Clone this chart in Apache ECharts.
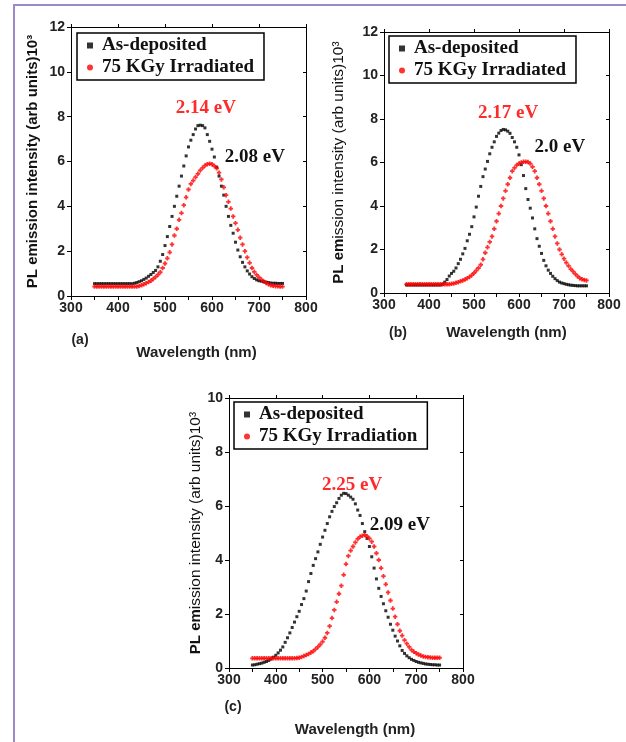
<!DOCTYPE html>
<html>
<head>
<meta charset="utf-8">
<script src="https://cdn.jsdelivr.net/npm/echarts@6.0.0/dist/echarts.min.js"></script>
<style>
html,body{margin:0;padding:0;background:#fff;}
#chart{width:626px;height:742px;}
</style>
</head>
<body>
<div id="chart"></div>
<script>
// Shared wavelength grid (nm)
const wavelength = [
  350,355,360,365,370,375,380,385,390,395,
  400,405,410,415,420,425,430,435,440,445,
  450,455,460,465,470,475,480,485,490,495,
  500,505,510,515,520,525,530,535,540,545,
  550,555,560,565,570,575,580,585,590,595,
  600,605,610,615,620,625,630,635,640,645,
  650,655,660,665,670,675,680,685,690,695,
  700,705,710,715,720,725,730,735,740,745,
  750
];

// Panel (a)
const aBlack = [
  0.55,0.55,0.55,0.55,0.55,0.55,0.55,0.55,0.55,0.55,
  0.55,0.55,0.55,0.55,0.55,0.55,0.55,0.57,0.60,0.64,
  0.68,0.74,0.80,0.88,0.96,1.05,1.14,1.30,1.55,1.85,
  2.25,2.65,3.10,3.55,4.00,4.45,4.90,5.35,5.80,6.25,
  6.65,6.95,7.20,7.45,7.60,7.62,7.60,7.50,7.20,6.90,
  6.55,6.20,5.75,5.35,4.90,4.50,4.00,3.55,3.15,2.80,
  2.40,2.05,1.75,1.50,1.30,1.12,0.98,0.86,0.78,0.72,
  0.68,0.66,0.64,0.62,0.60,0.58,0.57,0.57,0.56,0.56,
  0.56
];
const aRed = [
  0.42,0.42,0.42,0.42,0.42,0.42,0.42,0.42,0.42,0.42,
  0.42,0.42,0.42,0.42,0.42,0.42,0.42,0.42,0.42,0.45,
  0.48,0.52,0.57,0.62,0.68,0.76,0.85,0.95,1.06,1.25,
  1.45,1.68,1.95,2.30,2.70,3.00,3.40,3.70,4.05,4.40,
  4.75,5.00,5.15,5.30,5.45,5.60,5.72,5.82,5.88,5.90,
  5.88,5.80,5.70,5.50,5.20,4.85,4.50,4.20,3.90,3.55,
  3.25,2.95,2.60,2.30,2.00,1.72,1.48,1.25,1.08,0.94,
  0.83,0.74,0.65,0.58,0.52,0.48,0.46,0.44,0.43,0.42,
  0.42
];

// Panel (b)
const bBlack = [
  0.37,0.37,0.37,0.37,0.37,0.37,0.37,0.37,0.37,0.37,
  0.37,0.37,0.37,0.37,0.37,0.37,0.40,0.50,0.62,0.78,
  0.90,1.00,1.15,1.35,1.55,1.80,2.05,2.40,2.70,3.05,
  3.50,3.95,4.45,4.90,5.35,5.70,6.05,6.40,6.70,6.95,
  7.20,7.35,7.47,7.52,7.50,7.44,7.34,7.15,6.95,6.70,
  6.35,5.90,5.40,4.80,4.30,3.90,3.45,2.95,2.50,2.15,
  1.82,1.50,1.25,1.05,0.90,0.77,0.66,0.57,0.50,0.46,
  0.43,0.40,0.38,0.36,0.35,0.34,0.33,0.33,0.33,0.33,
  0.33
];
const bRed = [
  0.40,0.40,0.40,0.40,0.40,0.40,0.40,0.40,0.40,0.40,
  0.40,0.40,0.40,0.40,0.40,0.40,0.40,0.40,0.40,0.40,
  0.42,0.44,0.47,0.50,0.54,0.58,0.62,0.68,0.74,0.82,
  0.92,1.03,1.15,1.30,1.55,1.85,2.10,2.35,2.60,2.95,
  3.30,3.65,4.00,4.35,4.70,5.00,5.30,5.60,5.75,5.88,
  5.95,6.00,6.03,6.04,6.02,5.95,5.80,5.60,5.30,5.00,
  4.70,4.35,4.00,3.65,3.30,2.95,2.60,2.28,2.00,1.78,
  1.58,1.40,1.25,1.10,0.99,0.88,0.77,0.68,0.63,0.60,
  0.58
];

// Panel (c)
const cBlack = [
  0.11,0.12,0.14,0.16,0.18,0.21,0.24,0.28,0.33,0.40,
  0.47,0.56,0.66,0.78,0.95,1.12,1.30,1.50,1.70,1.90,
  2.10,2.35,2.57,2.85,3.20,3.50,3.80,4.05,4.30,4.58,
  4.85,5.10,5.35,5.60,5.80,5.98,6.12,6.28,6.40,6.47,
  6.46,6.40,6.33,6.25,6.08,5.85,5.65,5.35,5.05,4.80,
  4.50,4.12,3.70,3.30,2.95,2.65,2.38,2.12,1.88,1.62,
  1.40,1.18,1.00,0.82,0.65,0.54,0.45,0.38,0.32,0.28,
  0.24,0.21,0.19,0.17,0.15,0.14,0.13,0.12,0.12,0.11,
  0.11
];
const cRed = [
  0.36,0.36,0.36,0.36,0.36,0.36,0.36,0.36,0.36,0.36,
  0.36,0.36,0.36,0.36,0.36,0.36,0.36,0.36,0.36,0.37,
  0.38,0.41,0.44,0.48,0.52,0.57,0.62,0.70,0.78,0.87,
  0.98,1.12,1.30,1.55,1.85,2.15,2.45,2.75,3.05,3.45,
  3.85,4.15,4.35,4.50,4.65,4.78,4.86,4.90,4.93,4.88,
  4.80,4.68,4.50,4.25,4.00,3.70,3.40,3.10,2.80,2.50,
  2.20,1.90,1.62,1.38,1.20,1.03,0.90,0.78,0.67,0.60,
  0.55,0.50,0.46,0.43,0.41,0.40,0.39,0.38,0.38,0.38,
  0.38
];

// Labels
const nameBlack = 'As-deposited';
const nameRedAB = '75 KGy Irradiated';
const nameRedC = '75 KGy Irradiation';
const xTitle = 'Wavelength (nm)';
const panelTags = ['(a)', '(b)', '(c)'];
const peakLabels = {
  a: { red: '2.14 eV', redAt: [587, 8.4], black: '2.08 eV', blackAt: [691, 6.2] },
  b: { red: '2.17 eV', redAt: [576, 8.28], black: '2.0 eV', blackAt: [691, 6.71] },
  c: { red: '2.25 eV', redAt: [563, 6.78], black: '2.09 eV', blackAt: [665, 5.3] }
};
const yMax = [12, 12, 10];

const chart = echarts.init(document.getElementById('chart'), null, { renderer: 'canvas' });

const sans = 'Liberation Sans, Arial, sans-serif';
const serif = 'Liberation Serif, Times New Roman, serif';
const RED = '#ff0000';
const BLACK = '#000000';
const plusPath = 'path://M3,0h4v3h3v4h-3v3h-4v-3h-3v-4h3z';

const grids = [
  { left: 71, top: 27, width: 235, height: 269 },
  { left: 384, top: 32, width: 225, height: 261 },
  { left: 229, top: 398, width: 234, height: 270 }
];

function pts(vals) { return wavelength.map((w, i) => [w, vals[i]]); }

const xNameGap = [49, 32, 54];
const xNamePad = [16, 20, 18];
const yNameGap = [31, 37, 20];

const xAxes = [];
const yAxes = [];
for (let g = 0; g < 3; g++) {
  xAxes.push({
    type: 'value', gridIndex: g, min: 300, max: 800, interval: 100, position: 'bottom',
    axisLine: { show: true, onZero: false, lineStyle: { color: '#000', width: 1 } },
    axisTick: { show: true, inside: false, length: 4, lineStyle: { color: '#000' } },
    minorTick: { show: true, splitNumber: 2, length: 4, lineStyle: { color: '#000' } },
    splitLine: { show: false },
    axisLabel: { margin: 5, fontFamily: sans, fontWeight: 'bold', fontSize: 14, color: '#222' },
    name: xTitle, nameLocation: 'middle', nameGap: xNameGap[g],
    nameTextStyle: { fontFamily: sans, fontWeight: 'bold', fontSize: 15, color: '#222', padding: [0, 0, 0, xNamePad[g]] }
  });
  let yName, yNameStyle;
  if (g === 0) {
    yName = 'PL emission intensity (arb units)10³';
    yNameStyle = { fontFamily: sans, fontWeight: 'bold', fontSize: 15, color: '#111' };
  } else {
    yName = '{b|PL em}{n|ission intensity (arb units)10³}';
    yNameStyle = {
      color: '#111',
      rich: {
        b: { fontFamily: sans, fontWeight: 'bold', fontSize: 15, color: '#111' },
        n: { fontFamily: sans, fontWeight: 'normal', fontSize: 15.5, color: '#111' }
      }
    };
  }
  yAxes.push({
    type: 'value', gridIndex: g, min: 0, max: yMax[g], interval: 2, position: 'left',
    axisLine: { show: true, onZero: false, lineStyle: { color: '#000', width: 1 } },
    axisTick: { show: true, inside: false, length: 4, lineStyle: { color: '#000' } },
    splitLine: { show: false },
    axisLabel: { margin: 6, fontFamily: sans, fontWeight: 'bold', fontSize: 14, color: '#222' },
    name: yName, nameLocation: 'middle', nameGap: yNameGap[g], nameRotate: 90,
    nameTextStyle: yNameStyle
  });
}
// mirror axes (top / right) for the box frame
for (let g = 0; g < 3; g++) {
  xAxes.push({
    type: 'value', gridIndex: g, min: 300, max: 800, interval: 100, position: 'top',
    axisLine: { show: true, onZero: false, lineStyle: { color: '#000', width: 1 } },
    axisTick: { show: true, inside: false, length: 3, lineStyle: { color: '#000' } },
    axisLabel: { show: false }, splitLine: { show: false }
  });
  yAxes.push({
    type: 'value', gridIndex: g, min: 0, max: yMax[g], interval: 2, position: 'right',
    axisLine: { show: true, onZero: false, lineStyle: { color: '#000', width: 1 } },
    axisTick: { show: true, inside: true, length: 3, lineStyle: { color: '#000' } },
    axisLabel: { show: false }, splitLine: { show: false }
  });
}

function peakMark(text, coord, color) {
  return {
    silent: true,
    symbol: 'rect', symbolSize: 1,
    itemStyle: { color: 'rgba(0,0,0,0)' },
    label: {
      show: true, position: 'inside', formatter: text,
      fontFamily: serif, fontWeight: 'bold', fontSize: 19, color: color
    },
    emphasis: { disabled: true },
    data: [{ coord: coord }]
  };
}

const panels = [
  { black: aBlack, red: aRed, redName: nameRedAB, pk: peakLabels.a },
  { black: bBlack, red: bRed, redName: nameRedAB, pk: peakLabels.b },
  { black: cBlack, red: cRed, redName: nameRedC, pk: peakLabels.c }
];

const series = [];
panels.forEach((p, g) => {
  series.push({
    type: 'scatter', name: nameBlack, xAxisIndex: g, yAxisIndex: g,
    symbol: 'rect', symbolSize: 3,
    itemStyle: { color: BLACK },
    data: pts(p.black),
    markPoint: peakMark(p.pk.black, p.pk.blackAt, '#111')
  });
  series.push({
    type: 'scatter', name: p.redName, xAxisIndex: g, yAxisIndex: g,
    symbol: plusPath, symbolSize: 4.5,
    itemStyle: { color: RED },
    data: pts(p.red),
    markPoint: peakMark(p.pk.red, p.pk.redAt, '#ff2a2a')
  });
});

function legendFor(left, top, redName) {
  return {
    left: left, top: top, orient: 'vertical',
    data: [{ name: nameBlack, icon: 'rect' }, { name: redName, icon: 'circle' }],
    itemWidth: 6, itemHeight: 6, itemGap: 3,
    padding: [3, 10, 3, 10],
    borderColor: '#000', borderWidth: 1.5, backgroundColor: '#fff',
    selectedMode: false,
    textStyle: { fontFamily: serif, fontWeight: 'bold', fontSize: 19, color: '#111', padding: [0, 0, 0, 4] }
  };
}

const option = {
  backgroundColor: '#ffffff',
  animation: false,
  grid: grids,
  xAxis: xAxes,
  yAxis: yAxes,
  legend: [
    legendFor(77, 33, nameRedAB),
    legendFor(389, 36, nameRedAB),
    legendFor(234, 402, nameRedC)
  ],
  series: series,
  graphic: [
    { type: 'rect', silent: true, shape: { x: 14, y: 5, width: 720, height: 800 },
      style: { fill: 'none', stroke: '#9d88c8', lineWidth: 2 } },
    { type: 'text', x: 80, y: 340, style: { text: panelTags[0], font: 'bold 14px Liberation Sans, Arial', fill: '#222', textAlign: 'center', textVerticalAlign: 'middle' } },
    { type: 'text', x: 398, y: 333, style: { text: panelTags[1], font: 'bold 14px Liberation Sans, Arial', fill: '#222', textAlign: 'center', textVerticalAlign: 'middle' } },
    { type: 'text', x: 233, y: 707, style: { text: panelTags[2], font: 'bold 14px Liberation Sans, Arial', fill: '#222', textAlign: 'center', textVerticalAlign: 'middle' } }
  ]
};
chart.setOption(option);
</script>
</body>
</html>
